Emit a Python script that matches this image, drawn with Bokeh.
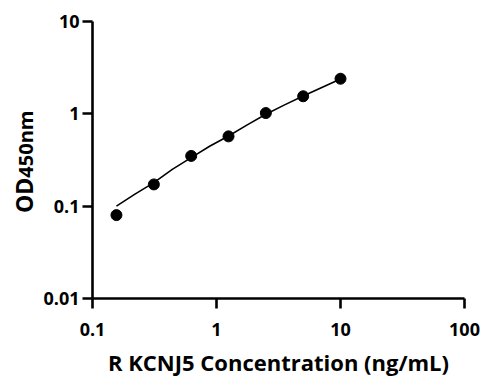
from bokeh.plotting import figure
from bokeh.models import Range1d, FixedTicker, CustomJSTickFormatter, Div
from bokeh.layouts import row
from bokeh.embed import file_html
from bokeh.resources import INLINE

# Data
conc = [0.156, 0.3125, 0.625, 1.25, 2.5, 5, 10]
od = [0.080, 0.172, 0.35, 0.57, 1.02, 1.55, 2.40]

# fitted curve
fit_x = [0.156, 0.22, 0.3125, 0.44, 0.625, 0.88, 1.25, 1.77, 2.5, 3.54, 5, 7.07, 10]
fit_y = [0.100, 0.135, 0.180, 0.250, 0.335, 0.445, 0.575, 0.760, 0.99, 1.25, 1.56, 1.93, 2.38]

x_ticks = [0.1, 1, 10, 100]
y_ticks = [0.01, 0.1, 1, 10]

x_title = "R KCNJ5 Concentration (ng/mL)"
y_title_main = "OD"
y_title_sub = "450nm"

FONT = "Open Sans"
TITLE_W = 40

p = figure(width=490 - TITLE_W, height=385, x_axis_type="log", y_axis_type="log",
           x_range=Range1d(0.1, 100), y_range=Range1d(0.01, 10),
           output_backend="svg", toolbar_location=None,
           min_border_left=92 - TITLE_W, min_border_right=26, min_border_top=21, min_border_bottom=87)

p.outline_line_color = None
p.grid.visible = False
p.background_fill_color = "white"
p.border_fill_color = "white"

fmt = CustomJSTickFormatter(code="return tick.toString();")

for ax, ticks in ((p.xaxis[0], x_ticks), (p.yaxis[0], y_ticks)):
    ax.ticker = FixedTicker(ticks=ticks, minor_ticks=[])
    ax.formatter = fmt
    ax.axis_line_width = 2.6
    ax.axis_line_color = "black"
    ax.major_tick_line_width = 2.6
    ax.major_tick_line_color = "black"
    ax.major_tick_out = 10
    ax.major_tick_in = 0
    ax.minor_tick_out = 0
    ax.minor_tick_in = 0
    ax.major_label_text_font = FONT
    ax.major_label_text_font_style = "bold"
    ax.major_label_text_font_size = "18px"
    ax.major_label_text_color = "black"

p.xaxis[0].major_label_standoff = 14
p.yaxis[0].major_label_standoff = 3

p.xaxis[0].axis_label = x_title
p.xaxis[0].axis_label_text_font = FONT
p.xaxis[0].axis_label_text_font_style = "bold"
p.xaxis[0].axis_label_text_font_size = "22px"
p.xaxis[0].axis_label_text_color = "black"
p.xaxis[0].axis_label_standoff = 8

p.line(fit_x, fit_y, line_color="black", line_width=1.6)
p.scatter(conc, od, size=11, fill_color="black", line_color="black")

# y-axis title: "OD" with a smaller "450nm", rotated, as real HTML text
ytitle_html = (
    '<div style="position:absolute; left:13px; top:213px; transform:rotate(-90deg); '
    'transform-origin:0 0; white-space:nowrap; line-height:1; font-size:23px; '
    "font-family:'Open Sans', sans-serif; font-weight:bold; color:black;\">"
    f'<span style="font-size:23px">{y_title_main}</span>'
    f'<span style="font-size:20px">{y_title_sub}</span></div>'
)
ytitle = Div(text=ytitle_html, width=TITLE_W, height=385, margin=0)

layout = row(ytitle, p, spacing=0)

open("out.html", "w").write(file_html(layout, INLINE))
